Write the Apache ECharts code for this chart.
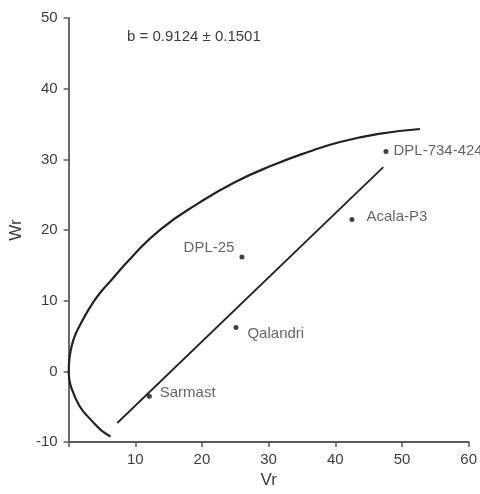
<!DOCTYPE html>
<html>
<head>
<meta charset="utf-8">
<script src="https://cdn.jsdelivr.net/npm/echarts@6/dist/echarts.min.js"></script>
<style>
html,body{margin:0;padding:0;background:#fff;}
#chart{width:480px;height:494px;}
</style>
</head>
<body>
<div id="chart"></div>
<script>
// Cultivar points (Vr, Wr)
const cultivars = ['Sarmast', 'Qalandri', 'DPL-25', 'Acala-P3', 'DPL-734-424'];
const vrValues = [12.1, 25.1, 26.0, 42.5, 47.6];
const wrValues = [-3.5, 6.2, 16.2, 21.5, 31.1];

// Regression line end points
const regVr = [7.3, 47.2];
const regWr = [-7.3, 28.9];
const slopeText = 'b = 0.9124 \u00b1 0.1501';

// Limiting parabola points
const parabolaVr = [6.3, 5.0, 4.0, 3.0, 2.0, 1.3, 0.7, 0.2, 0.02, 0.15, 0.55, 1.1, 1.8, 2.6, 3.5, 4.8, 6.3, 9.5, 13.8, 19.5, 25.0, 30.7, 35.8, 40.7, 46.5, 52.7];
const parabolaWr = [-9.2, -8.4, -7.5, -6.5, -5.4, -4.3, -3.0, -1.6, 0.0, 2.0, 3.9, 5.4, 6.7, 8.1, 9.5, 11.2, 12.8, 16.2, 20.1, 23.8, 26.8, 29.2, 31.0, 32.45, 33.6, 34.3];

// Axis ticks
const xTicks = [0, 10, 20, 30, 40, 50, 60];
const yTicks = [-10, 0, 10, 20, 30, 40, 50];

const labelPlacement = {
  'Sarmast': {position: 'right', distance: 8, offset: [0, -3]},
  'Qalandri': {position: 'right', distance: 9, offset: [0, 6]},
  'DPL-25': {position: 'left', distance: 5, offset: [0, -9]},
  'Acala-P3': {position: 'right', distance: 12, offset: [0, -3]},
  'DPL-734-424': {position: 'right', distance: 5, offset: [0, -1]}
};

const font = 'Liberation Sans, Arial, sans-serif';
const textColor = '#3c3c3c';

const pointData = cultivars.map((n, i) => ({
  name: n,
  value: [vrValues[i], wrValues[i]],
  label: Object.assign({show: true, formatter: '{b}', color: textColor, fontSize: 15, fontFamily: font}, labelPlacement[n])
}));

const chart = echarts.init(document.getElementById('chart'), null, {renderer: 'canvas'});
chart.setOption({
  animation: false,
  backgroundColor: '#fff',
  grid: {left: 68, right: 11, top: 18, bottom: 48, containLabel: false},
  xAxis: {
    type: 'value', min: xTicks[0], max: xTicks[xTicks.length - 1], interval: 10,
    name: 'Vr', nameLocation: 'middle', nameGap: 23,
    nameTextStyle: {fontSize: 17, color: textColor, fontFamily: font},
    axisLine: {show: true, onZero: false, lineStyle: {color: '#5a5a5a', width: 1.8}},
    axisTick: {show: true, length: 5, lineStyle: {color: '#5a5a5a', width: 1.5}},
    axisLabel: {margin: 10, fontSize: 15, color: textColor, fontFamily: font,
      formatter: v => v === 0 ? '' : String(v)},
    splitLine: {show: false}
  },
  yAxis: {
    type: 'value', min: yTicks[0], max: yTicks[yTicks.length - 1], interval: 10,
    name: 'Wr', nameLocation: 'middle', nameGap: 42,
    nameTextStyle: {fontSize: 17, color: textColor, fontFamily: font},
    axisLine: {show: true, onZero: false, lineStyle: {color: '#5a5a5a', width: 1.8}},
    axisTick: {show: true, length: 5, lineStyle: {color: '#5a5a5a', width: 1.5}},
    axisLabel: {margin: 11, fontSize: 15, color: textColor, fontFamily: font},
    splitLine: {show: false}
  },
  graphic: [{
    type: 'text', left: 127, top: 29,
    style: {text: slopeText, fontSize: 15, fill: textColor, fontFamily: font}
  }],
  series: [
    {
      type: 'line', data: parabolaVr.map((v, i) => [v, parabolaWr[i]]),
      smooth: 0.5, symbol: 'none', clip: true,
      lineStyle: {color: '#222', width: 2.2}
    },
    {
      type: 'line', data: regVr.map((v, i) => [v, regWr[i]]),
      symbol: 'none', lineStyle: {color: '#222', width: 1.8}
    },
    {
      type: 'scatter', data: pointData, symbolSize: 5,
      itemStyle: {color: '#111'}
    }
  ]
});
</script>
</body>
</html>
